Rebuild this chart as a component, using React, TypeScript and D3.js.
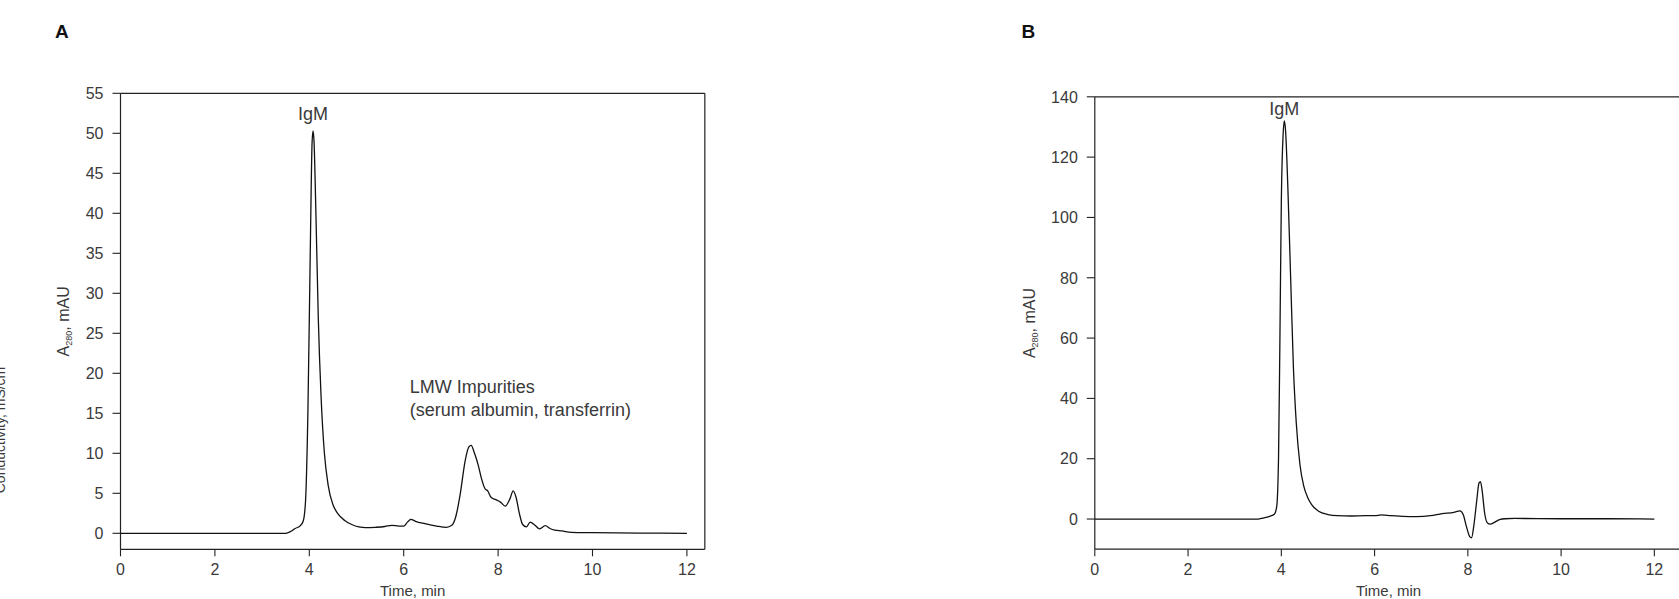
import React from "react";
import * as d3 from "d3";

// panel A – IgM on Capto (A280 trace)
const aTime = [0, 1, 2, 3, 3.5, 3.6, 3.7, 3.8, 3.87, 3.92, 3.97, 4.02, 4.06, 4.08, 4.1, 4.14, 4.19, 4.25, 4.32, 4.4, 4.5, 4.6, 4.75, 4.9, 5.05, 5.2, 5.4, 5.6, 5.75, 5.9, 6.0, 6.08, 6.15, 6.25, 6.45, 6.7, 6.9, 7.02, 7.1, 7.2, 7.3, 7.38, 7.43, 7.5, 7.58, 7.65, 7.72, 7.78, 7.85, 7.95, 8.05, 8.15, 8.25, 8.32, 8.38, 8.45, 8.52, 8.6, 8.68, 8.78, 8.88, 9.0, 9.1, 9.2, 9.35, 9.55, 10, 11, 12];
const aAbs = [0, 0, 0, 0, 0, 0.2, 0.6, 0.9, 1.5, 4, 15, 35, 49, 50.3, 49, 40, 27, 17, 10, 6, 3.6, 2.5, 1.6, 1.1, 0.8, 0.7, 0.75, 0.85, 1.0, 0.9, 0.9, 1.4, 1.75, 1.5, 1.2, 0.9, 0.75, 1.0, 2.0, 5, 9, 10.8, 11, 10, 8.5, 6.8, 5.6, 5.3, 4.5, 4.2, 3.9, 3.4, 4.3, 5.3, 4.5, 2.5, 1.1, 0.8, 1.4, 1.0, 0.55, 0.95, 0.6, 0.4, 0.3, 0.12, 0.08, 0.03, 0];

// panel B
const bTime = [0, 1, 2, 3, 3.5, 3.6, 3.75, 3.85, 3.9, 3.94, 3.97, 4.0, 4.04, 4.065, 4.09, 4.14, 4.2, 4.26, 4.32, 4.4, 4.48, 4.57, 4.65, 4.8, 5.0, 5.2, 5.5, 5.8, 6.0, 6.15, 6.35, 6.6, 6.9, 7.2, 7.45, 7.7, 7.83, 7.9, 7.97, 8.04, 8.08, 8.13, 8.19, 8.24, 8.27, 8.31, 8.36, 8.42, 8.48, 8.58, 8.68, 8.8, 9, 10, 11, 12];
const bAbs = [0, 0, 0, 0, 0, 0.3, 0.9, 1.6, 4, 20, 60, 105, 128, 132, 129, 110, 80, 50, 32, 18, 11, 7, 4.8, 2.6, 1.5, 1.1, 1.0, 1.1, 1.1, 1.4, 1.1, 0.9, 0.8, 1.1, 1.8, 2.2, 2.7, 1.5, -2.5, -5.8, -6.2, -2, 6, 12, 12.4, 9, 2, -1.3, -1.7, -1, -0.2, 0.1, 0.2, 0.1, 0.1, 0];

const xTicks = [0, 2, 4, 6, 8, 10, 12];
const aYTicks = [0, 5, 10, 15, 20, 25, 30, 35, 40, 45, 50, 55];
const bYTicks = [0, 20, 40, 60, 80, 100, 120, 140];

const FONT = "'Liberation Sans', Arial, Helvetica, sans-serif";
const TEXT = "#3a3a3a";
const AX = "#222";

const Panel = ({ letter, letterX, x, y, time, abs, yTicks, labelOffset, right, children }) => {
  const [x0, x1] = x.range();
  const [yb, yt] = y.range();
  const line = d3
    .line()
    .x((d, i) => x(time[i]))
    .y(d => y(d))
    .curve(d3.curveMonotoneX);
  const cx = (x0 + x1) / 2;
  return (
    <g>
      <text x={letterX} y={38} fontSize={19} fontWeight="bold" fill="#111" fontFamily={FONT}>
        {letter}
      </text>
      {/* frame */}
      <line x1={x0} x2={x0} y1={yt} y2={yb} stroke={AX} strokeWidth={1.2} />
      <line x1={x0} x2={x1} y1={yb} y2={yb} stroke={AX} strokeWidth={1.2} />
      <line x1={x0} x2={x1} y1={yt} y2={yt} stroke={AX} strokeWidth={1.2} />
      {right && <line x1={x1} x2={x1} y1={yt} y2={yb} stroke={AX} strokeWidth={1.2} />}
      {yTicks.map(t => (
        <g key={"y" + t}>
          <line x1={x0 - 8} x2={x0} y1={y(t)} y2={y(t)} stroke={AX} strokeWidth={1.1} />
          <text x={x0 - 17} y={y(t)} dy="0.36em" textAnchor="end" fontSize={16} fill={TEXT} fontFamily={FONT}>
            {t}
          </text>
        </g>
      ))}
      {xTicks.map(t => (
        <g key={"x" + t}>
          <line x1={x(t)} x2={x(t)} y1={yb} y2={yb + 7} stroke={AX} strokeWidth={1.1} />
          <text x={x(t)} y={575} textAnchor="middle" fontSize={16} fill={TEXT} fontFamily={FONT}>
            {t}
          </text>
        </g>
      ))}
      <text x={cx} y={596} textAnchor="middle" fontSize={15} fill={TEXT} fontFamily={FONT}>
        Time, min
      </text>
      <text
        transform={`translate(${x0 - labelOffset},${(yt + yb) / 2}) rotate(-90)`}
        textAnchor="middle"
        fontSize={16}
        fill={TEXT}
        fontFamily={FONT}
      >
        A<tspan fontSize={9} dy={3}>280</tspan>
        <tspan dy={-3}>, mAU</tspan>
      </text>
      <path d={line(abs)} fill="none" stroke="#111" strokeWidth={1.3} />
      {children}
    </g>
  );
};

export default function App() {
  const xA = d3.scaleLinear().domain([0, 12.38]).range([120.5, 120.5 + 12.38 * 47.2]);
  const yA = d3.scaleLinear().domain([-2, 55]).range([549.3, 93.3]);
  const xB = d3.scaleLinear().domain([0, 12.6]).range([1094.8, 1094.8 + 12.6 * 46.63]);
  const yB = d3.scaleLinear().domain([-10, 140]).range([549.2, 96.8]);

  return (
    <svg
      width={1679}
      height={599}
      style={{ position: "absolute", left: 0, top: 0, background: "#fff" }}
    >
      <text
        transform="translate(5,430) rotate(-90)"
        textAnchor="middle"
        fontSize={14}
        fill={TEXT}
        fontFamily={FONT}
      >
        Conductivity, mS/cm
      </text>
      <Panel letter="A" letterX={55} x={xA} y={yA} time={aTime} abs={aAbs} yTicks={aYTicks} labelOffset={52} right>
        <text x={xA(4.08)} y={yA(51.7)} textAnchor="middle" fontSize={18} fill={TEXT} fontFamily={FONT}>
          IgM
        </text>
        <text x={xA(6.13)} y={yA(17.6)} fontSize={18} fill={TEXT} fontFamily={FONT}>
          LMW Impurities
          <tspan x={xA(6.13)} dy={23}>(serum albumin, transferrin)</tspan>
        </text>
      </Panel>
      <Panel letter="B" letterX={1021.5} x={xB} y={yB} time={bTime} abs={bAbs} yTicks={bYTicks} labelOffset={60} right>
        <text x={xB(4.065)} y={yB(133.8)} textAnchor="middle" fontSize={18} fill={TEXT} fontFamily={FONT}>
          IgM
        </text>
      </Panel>
    </svg>
  );
}
